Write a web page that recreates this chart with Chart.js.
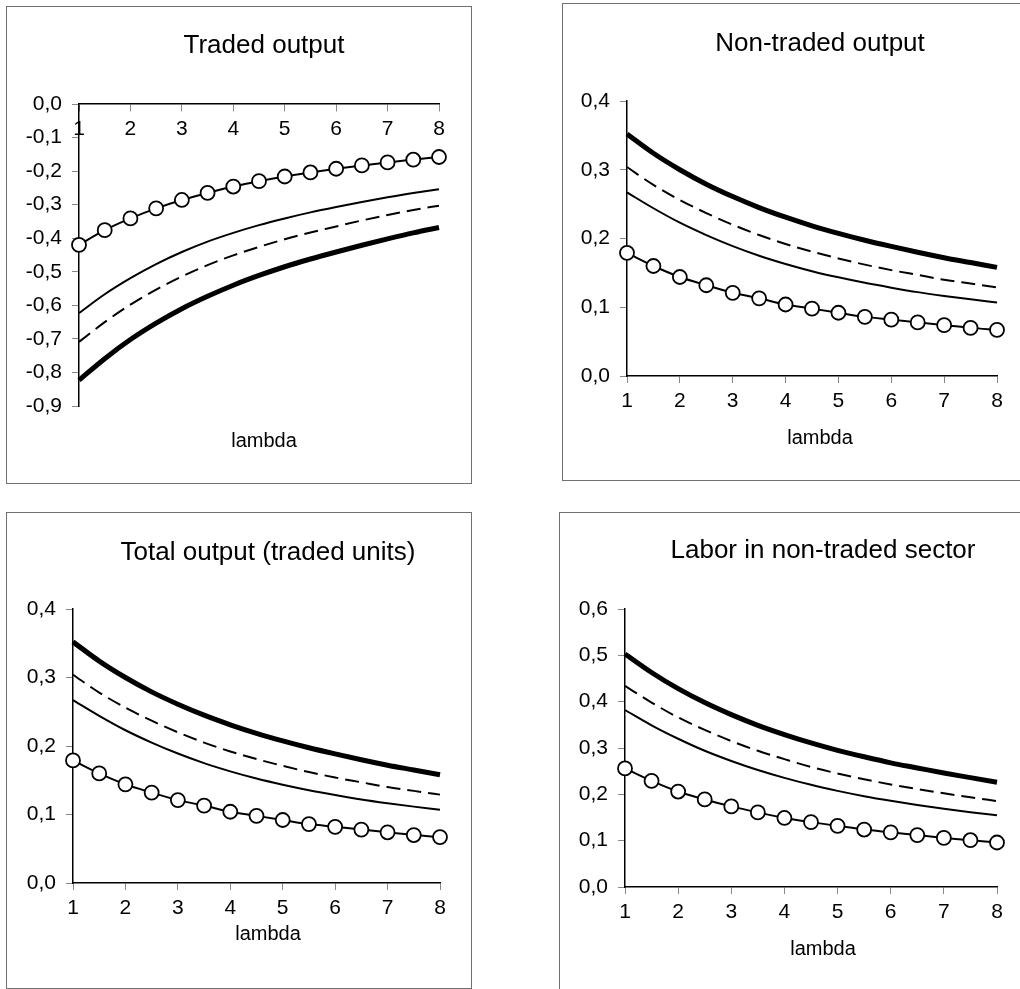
<!DOCTYPE html>
<html>
<head>
<meta charset="utf-8">
<script src="https://cdn.jsdelivr.net/npm/chart.js@4"></script>
<style>
  html, body { margin: 0; padding: 0; background: #fff; overflow: hidden; width: 1020px; height: 989px; }
  .box { position: absolute; border: 1px solid #707070; box-sizing: border-box; }
  canvas { position: absolute; }
</style>
</head>
<body>
<div class="box" style="left:6px;top:6px;width:466px;height:478px"></div>
<div class="box" style="left:562px;top:3px;width:470px;height:478px"></div>
<div class="box" style="left:6px;top:512px;width:466px;height:477px"></div>
<div class="box" style="left:559px;top:512px;width:470px;height:490px"></div>
<script>
// valores de lambda (eixo x)
const lambdaVals = [1, 1.5, 2, 2.5, 3, 3.5, 4, 4.5, 5, 5.5, 6, 6.5, 7, 7.5, 8];
const xTicks = [1, 2, 3, 4, 5, 6, 7, 8];

// Traded output
const tradedCircle = [-0.420, -0.376, -0.341, -0.311, -0.286, -0.265, -0.246, -0.230, -0.216, -0.204, -0.193, -0.183, -0.174, -0.166, -0.158];
const tradedThin   = [-0.623, -0.567, -0.519, -0.477, -0.441, -0.410, -0.384, -0.361, -0.341, -0.323, -0.307, -0.292, -0.278, -0.265, -0.254];
const tradedDashed = [-0.709, -0.650, -0.598, -0.553, -0.514, -0.480, -0.451, -0.426, -0.403, -0.383, -0.365, -0.347, -0.331, -0.316, -0.303];
const tradedThick  = [-0.823, -0.759, -0.702, -0.653, -0.610, -0.573, -0.540, -0.511, -0.485, -0.462, -0.441, -0.421, -0.402, -0.384, -0.368];

// Non-traded output
const nonTradedCircle = [0.179, 0.160, 0.144, 0.132, 0.121, 0.113, 0.104, 0.098, 0.092, 0.086, 0.082, 0.078, 0.074, 0.070, 0.067];
const nonTradedThin   = [0.267, 0.244, 0.223, 0.205, 0.189, 0.175, 0.163, 0.1525, 0.1435, 0.1355, 0.1285, 0.122, 0.1165, 0.1115, 0.107];
const nonTradedDashed = [0.304, 0.278, 0.256, 0.237, 0.220, 0.205, 0.192, 0.181, 0.171, 0.162, 0.154, 0.147, 0.140, 0.1345, 0.129];
const nonTradedThick  = [0.352, 0.324, 0.300, 0.279, 0.261, 0.245, 0.231, 0.2185, 0.2075, 0.1975, 0.1885, 0.180, 0.172, 0.165, 0.158];

// Total output (traded units)
const totalCircle = [0.179, 0.160, 0.144, 0.132, 0.121, 0.113, 0.104, 0.098, 0.092, 0.086, 0.082, 0.078, 0.074, 0.070, 0.067];
const totalThin   = [0.267, 0.244, 0.223, 0.205, 0.189, 0.175, 0.163, 0.1525, 0.1435, 0.1355, 0.1285, 0.122, 0.1165, 0.1115, 0.107];
const totalDashed = [0.304, 0.278, 0.256, 0.237, 0.220, 0.205, 0.192, 0.181, 0.171, 0.162, 0.154, 0.147, 0.140, 0.1345, 0.129];
const totalThick  = [0.352, 0.324, 0.300, 0.279, 0.261, 0.245, 0.231, 0.2185, 0.2075, 0.1975, 0.1885, 0.180, 0.172, 0.165, 0.158];

// Labor in non-traded sector
const laborCircle = [0.256, 0.229, 0.206, 0.189, 0.174, 0.161, 0.149, 0.140, 0.132, 0.124, 0.118, 0.112, 0.106, 0.101, 0.096];
const laborThin   = [0.382, 0.349, 0.320, 0.294, 0.272, 0.2525, 0.2355, 0.2205, 0.2075, 0.196, 0.186, 0.177, 0.169, 0.1615, 0.155];
const laborDashed = [0.434, 0.398, 0.366, 0.339, 0.315, 0.294, 0.276, 0.259, 0.245, 0.2326, 0.2213, 0.2114, 0.2021, 0.1935, 0.1855];
const laborThick  = [0.503, 0.463, 0.428, 0.398, 0.372, 0.349, 0.329, 0.311, 0.295, 0.281, 0.268, 0.257, 0.246, 0.236, 0.226];

const fonte = "'Liberation Sans', Arial, sans-serif";

function formatTick(v) {
    if (Math.abs(v) < 1e-9) return '0,0';
    return v.toFixed(1).replace('.', ',');
}

// cria um painel (canvas posicionado + grafico)
// a = borda esquerda da area do grafico, b = borda direita, c = centro dos textos
function criarPainel(p) {
    const yw = 60;
    const left = p.a - yw;
    const w = Math.round(2 * (p.c - left));
    const rw = left + w - p.b;

    const canvas = document.createElement('canvas');
    canvas.width = w;
    canvas.height = p.h;
    canvas.style.left = left + 'px';
    canvas.style.top = p.top + 'px';
    canvas.style.width = w + 'px';
    canvas.style.height = p.h + 'px';
    document.body.appendChild(canvas);

    const linha = { borderColor: '#000', pointRadius: 0, fill: false, cubicInterpolationMode: 'monotone', clip: false };
    const datasets = [
        Object.assign({}, linha, { data: p.circle, borderWidth: 2, pointRadius: 7, pointBorderWidth: 1.8, pointBackgroundColor: '#fff', pointBorderColor: '#000' }),
        Object.assign({}, linha, { data: p.thin, borderWidth: 2 }),
        Object.assign({}, linha, { data: p.dashed, borderWidth: 2, borderDash: [14, 7] }),
        Object.assign({}, linha, { data: p.thick, borderWidth: 5 })
    ];

    new Chart(canvas, {
        type: 'line',
        data: { labels: lambdaVals, datasets: datasets },
        options: {
            responsive: false,
            animation: false,
            events: [],
            layout: { padding: 0 },
            plugins: {
                legend: { display: false },
                tooltip: { enabled: false },
                title: {
                    display: true, text: p.title, color: '#000',
                    font: { family: fonte, size: 26, weight: 'normal' },
                    padding: { top: p.titleTop, bottom: p.titleBottom }
                },
                subtitle: {
                    display: true, position: 'bottom', text: 'lambda', color: '#000',
                    font: { family: fonte, size: 20, weight: 'normal' },
                    padding: { top: p.subTop, bottom: p.subBottom }
                }
            },
            scales: {
                x: {
                    type: 'linear', min: 1, max: 8,
                    position: p.xPos,
                    afterBuildTicks: s => { s.ticks = xTicks.map(v => ({ value: v })); },
                    ticks: { color: '#000', padding: 6, font: { family: fonte, size: 21 }, maxRotation: 0 },
                    grid: { drawOnChartArea: false, tickLength: 7, color: '#888' },
                    border: { color: '#000', width: 1.5 },
                    afterFit: s => { s.height = p.xH; }
                },
                y: {
                    type: 'linear', min: p.yMin, max: p.yMax,
                    ticks: { stepSize: 0.1, color: '#000', padding: 10, font: { family: fonte, size: 21 }, callback: formatTick },
                    grid: { drawOnChartArea: false, tickLength: 7, color: '#888' },
                    border: { color: '#000', width: 1.5 },
                    afterFit: s => { s.width = yw; }
                },
                yR: {
                    axis: 'y', position: 'right', display: true,
                    grid: { display: false }, ticks: { display: false }, border: { display: false },
                    afterFit: s => { s.width = rw; }
                }
            }
        }
    });
}

criarPainel({
    title: 'Traded output', circle: tradedCircle, thin: tradedThin, dashed: tradedDashed, thick: tradedThick,
    yMin: -0.9, yMax: 0, xPos: { y: 0 },
    a: 79, b: 439, c: 264, top: 8, h: 473,
    titleTop: 22.4, titleBottom: 42.4, subTop: 23.5, subBottom: 27.5, xH: 0
});

criarPainel({
    title: 'Non-traded output', circle: nonTradedCircle, thin: nonTradedThin, dashed: nonTradedDashed, thick: nonTradedThick,
    yMin: 0, yMax: 0.4, xPos: 'bottom',
    a: 627, b: 997, c: 820, top: 5, h: 473,
    titleTop: 23.4, titleBottom: 41.4, subTop: 10, subBottom: 28, xH: 40
});

criarPainel({
    title: 'Total output (traded units)', circle: totalCircle, thin: totalThin, dashed: totalDashed, thick: totalThick,
    yMin: 0, yMax: 0.4, xPos: 'bottom',
    a: 73, b: 440, c: 268, top: 514, h: 472,
    titleTop: 23.4, titleBottom: 40.4, subTop: 3, subBottom: 40, xH: 36
});

criarPainel({
    title: 'Labor in non-traded sector', circle: laborCircle, thin: laborThin, dashed: laborDashed, thick: laborThick,
    yMin: 0, yMax: 0.6, xPos: 'bottom',
    a: 625, b: 997, c: 823, top: 514, h: 475,
    titleTop: 21.4, titleBottom: 42.4, subTop: 10, subBottom: 28, xH: 40
});
</script>
</body>
</html>
